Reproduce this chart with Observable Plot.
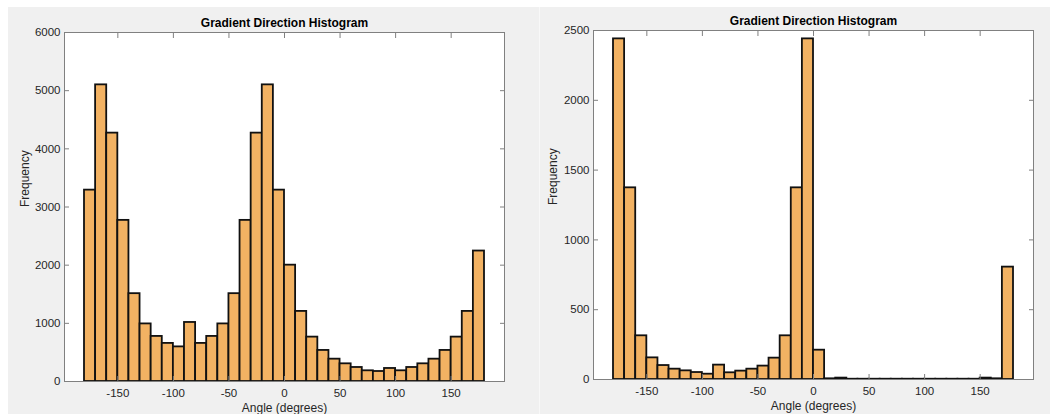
<!DOCTYPE html>
<html><head><meta charset="utf-8">
<script src="https://cdn.jsdelivr.net/npm/d3@7"></script>
<script src="https://cdn.jsdelivr.net/npm/@observablehq/plot@0.6"></script>
<style>
body{margin:0;background:#fff;width:1050px;height:414px;overflow:hidden;position:relative;font-family:"Liberation Sans",Arial,sans-serif}
#bg{position:absolute;left:8px;top:7px;width:1042px;height:407px;background:#f0f0f0}
#sep{position:absolute;left:539px;top:7px;width:1px;height:407px;background:#f8f8f8}
#left,#right{position:absolute;top:0}
#left{left:0}#right{left:525px}
</style></head><body>
<div id="bg"></div><div id="sep"></div><div id="left"></div><div id="right"></div>
<script>
const binStart = [-180,-170,-160,-150,-140,-130,-120,-110,-100,-90,-80,-70,-60,-50,-40,-30,-20,-10,0,10,20,30,40,50,60,70,80,90,100,110,120,130,140,150,160,170];
const binEnd   = [-170,-160,-150,-140,-130,-120,-110,-100,-90,-80,-70,-60,-50,-40,-30,-20,-10,0,10,20,30,40,50,60,70,80,90,100,110,120,130,140,150,160,170,180];
const countsLeft = [3290,5100,4270,2770,1510,990,775,655,595,1015,655,775,990,1510,2770,4270,5100,3290,2000,1205,763,534,384,304,241,184,172,224,184,241,304,384,534,763,1205,2243];
const countsRight = [2440,1373,313,155,100,74,62,50,38,103,48,60,74,96,153,313,1373,2440,210,5,10,2,2,2,2,2,2,2,2,2,2,2,2,10,5,805];
const xTicks = [-150,-100,-50,0,50,100,150];
const yTicksLeft = [0,1000,2000,3000,4000,5000,6000];
const yTicksRight = [0,500,1000,1500,2000,2500];
const xDomain = [-198,198];
const titleText = "Gradient Direction Histogram";
const xLabel = "Angle (degrees)";
const yLabel = "Frequency";

const axisGray = "#808080";
const textColor = "#262626";

function hist(counts, yTicks, m) {
  const data = binStart.map((s,i)=>({x1:s, x2:binEnd[i], count:counts[i]}));
  const blank = () => "";
  const plain = d => String(d);
  return Plot.plot({
    width:525, height:414,
    marginLeft:m.left, marginRight:m.right, marginTop:m.top, marginBottom:m.bottom,
    style:{background:"transparent", fontFamily:"'Liberation Sans', Arial, sans-serif", fontSize:"11px", color:textColor},
    x:{domain:xDomain},
    y:{domain:[yTicks[0], yTicks[yTicks.length-1]]},
    marks:[
      Plot.frame({fill:"white", stroke:null}),
      Plot.rect(data,{x1:"x1",x2:"x2",y1:0,y2:"count",fill:"#f2b263",stroke:"#111",strokeWidth:1.8}),
      Plot.frame({stroke:axisGray}),
      Plot.axisX({ticks:xTicks, tickSize:0, tickPadding:7, label:null, tickFormat:plain, fontSize:11.5}),
      Plot.axisX({ticks:xTicks, tickSize:5, dy:-5, tickFormat:blank, label:null, stroke:axisGray}),
      Plot.axisX({ticks:xTicks, anchor:"top", tickSize:5, dy:5, tickFormat:blank, label:null, stroke:axisGray}),
      Plot.axisY({ticks:yTicks, tickSize:0, tickPadding:4, label:null, tickFormat:plain, fontSize:11.5}),
      Plot.axisY({ticks:yTicks, tickSize:5, dx:5, tickFormat:blank, label:null, stroke:axisGray}),
      Plot.axisY({ticks:yTicks, anchor:"right", tickSize:5, dx:-5, tickFormat:blank, label:null, stroke:axisGray}),
      Plot.text([titleText],{frameAnchor:"top", dy:-9, fontWeight:"bold", fontSize:12, lineAnchor:"middle", fill:"#000"}),
      Plot.text([xLabel],{frameAnchor:"bottom", dy:27, fontSize:12, lineAnchor:"middle", fill:textColor}),
      Plot.text([yLabel],{frameAnchor:"left", dx:m.ylab, rotate:-90, fontSize:12, lineAnchor:"middle", fill:textColor})
    ]
  });
}
document.getElementById("left").append(hist(countsLeft, yTicksLeft, {left:64,right:21,top:32,bottom:33,ylab:-39}));
document.getElementById("right").append(hist(countsRight, yTicksRight, {left:68,right:17,top:30,bottom:35,ylab:-40}));
</script>
</body></html>
